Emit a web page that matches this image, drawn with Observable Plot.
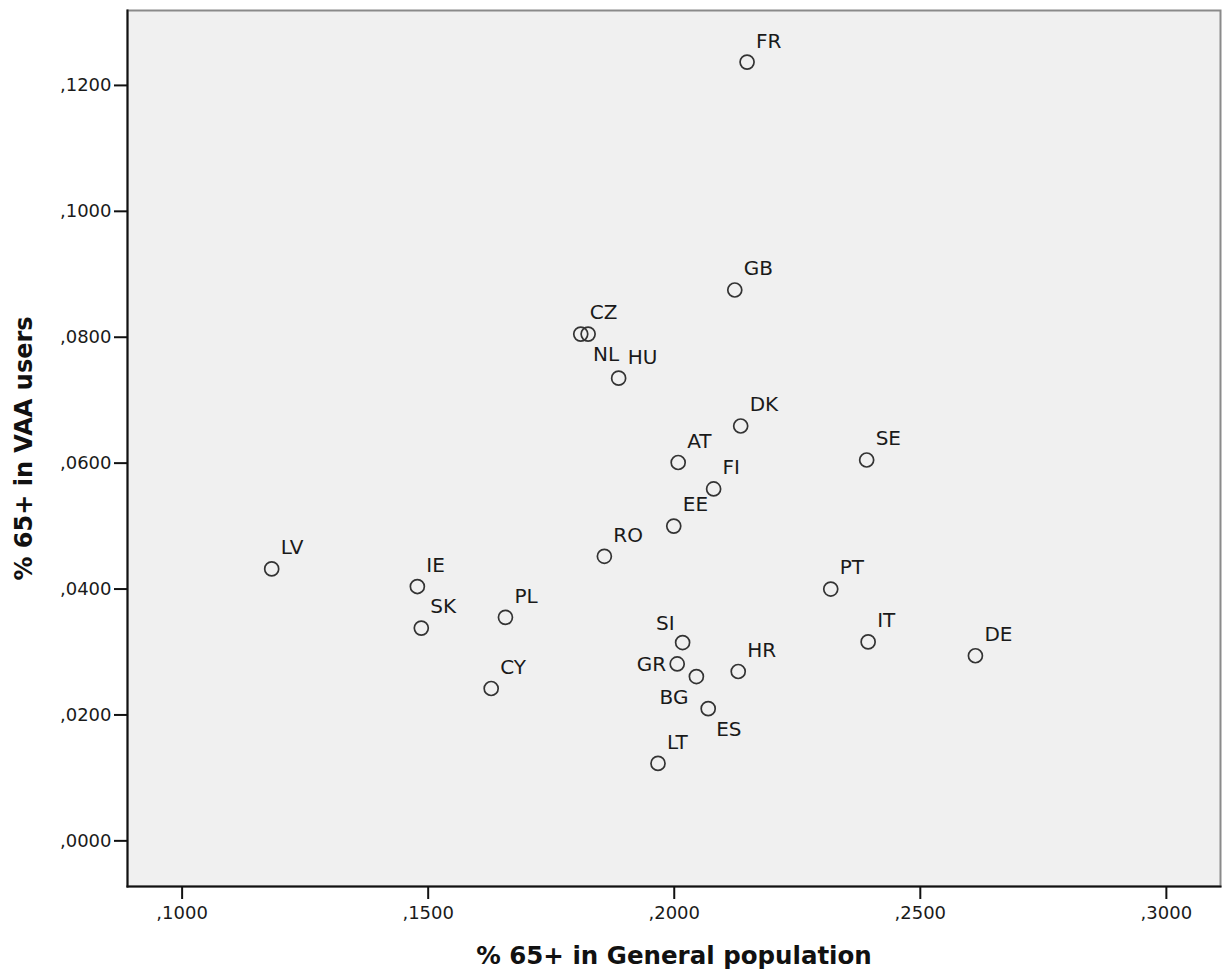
<!DOCTYPE html>
<html>
<head>
<meta charset="utf-8">
<script src="https://cdn.jsdelivr.net/npm/d3@7"></script>
<script src="https://cdn.jsdelivr.net/npm/@observablehq/plot@0.6"></script>
<style>
  html, body { margin: 0; padding: 0; background: #ffffff; }
  #chart svg { display: block; }
</style>
</head>
<body>
<div id="chart"></div>
<script>
// Country codes
const countries = ["FR","GB","CZ","NL","HU","DK","AT","SE","FI","EE","RO","LV","IE","SK","PL","CY","PT","IT","DE","SI","GR","BG","ES","HR","LT"];
// % 65+ in General population
const generalPop = [0.2148,0.2123,0.1810,0.1825,0.1887,0.2135,0.2008,0.2391,0.2080,0.1999,0.1858,0.1182,0.1478,0.1486,0.1657,0.1628,0.2318,0.2394,0.2612,0.2017,0.2006,0.2045,0.2069,0.2130,0.1967];
// % 65+ in VAA users
const vaaUsers = [0.1237,0.0875,0.0805,0.0805,0.0735,0.0659,0.0601,0.0605,0.0559,0.0500,0.0452,0.0432,0.0404,0.0338,0.0355,0.0242,0.0400,0.0316,0.0294,0.0315,0.0281,0.0261,0.0210,0.0269,0.0123];
// Where each point's label sits relative to the point
const labelSide = ["ne","ne","ne","s","ne","ne","ne","ne","ne","ne","ne","ne","ne","ne","ne","ne","ne","ne","ne","nw","w","sw","se","ne","ne"];
// Axis ticks
const xTicks = [0.10, 0.15, 0.20, 0.25, 0.30];
const yTicks = [0.00, 0.02, 0.04, 0.06, 0.08, 0.10, 0.12];
const xTitle = "% 65+ in General population";
const yTitle = "% 65+ in VAA users";

const data = countries.map((c, i) => ({code: c, x: generalPop[i], y: vaaUsers[i], side: labelSide[i]}));

const fmt = d => "," + d.toFixed(4).slice(2);
const font = "DejaVu Sans";

const sideStyle = {
  ne: {dx: 9,  dy: -21, textAnchor: "start"},
  s:  {dx: 5,  dy: 21,  textAnchor: "start"},
  w:  {dx: -11, dy: 1,  textAnchor: "end"},
  sw: {dx: -8, dy: 21,  textAnchor: "end"},
  se: {dx: 8,  dy: 21,  textAnchor: "start"},
  nw: {dx: -8, dy: -19, textAnchor: "end"}
};

const labelMarks = Object.entries(sideStyle).map(([side, st]) =>
  Plot.text(data.filter(d => d.side === side), {
    x: "x", y: "y", text: "code",
    dx: st.dx, dy: st.dy, textAnchor: st.textAnchor,
    fontSize: 20, fill: "#1a1a1a", fontFamily: font
  })
);

const chart = Plot.plot({
  width: 1227,
  height: 977,
  marginLeft: 127,
  marginRight: 7,
  marginTop: 10,
  marginBottom: 91,
  style: {fontFamily: font, background: "#ffffff"},
  x: {domain: [0.0889, 0.3110], ticks: xTicks, tickFormat: fmt},
  y: {domain: [-0.00725, 0.1319], ticks: yTicks, tickFormat: fmt},
  marks: [
    Plot.frame({fill: "#f0f0f0", stroke: "#8a8a8a", strokeWidth: 2}),
    Plot.frame({anchor: "left", stroke: "#111", strokeWidth: 2}),
    Plot.frame({anchor: "bottom", stroke: "#111", strokeWidth: 2}),
    Plot.axisX({ticks: xTicks, tickFormat: fmt, tickSize: 13, tickPadding: 7, fontSize: 18, stroke: "#111", strokeWidth: 2, fill: "#1a1a1a", label: null}),
    Plot.axisY({ticks: yTicks, tickFormat: fmt, tickSize: 13, tickPadding: 3, fontSize: 18, stroke: "#111", strokeWidth: 2, fill: "#1a1a1a", label: null}),
    Plot.dot(data, {x: "x", y: "y", r: 7, stroke: "#333", strokeWidth: 1.7, fill: "none"}),
    ...labelMarks,
    Plot.text([xTitle], {frameAnchor: "bottom", dy: 77, fontSize: 24.5, fontWeight: "bold", fill: "#111", fontFamily: font}),
    Plot.text([yTitle], {frameAnchor: "left", dx: -103, rotate: -90, textAnchor: "middle", fontSize: 24, fontWeight: "bold", fill: "#111", fontFamily: font})
  ]
});

document.getElementById("chart").appendChild(chart);
</script>
</body>
</html>
